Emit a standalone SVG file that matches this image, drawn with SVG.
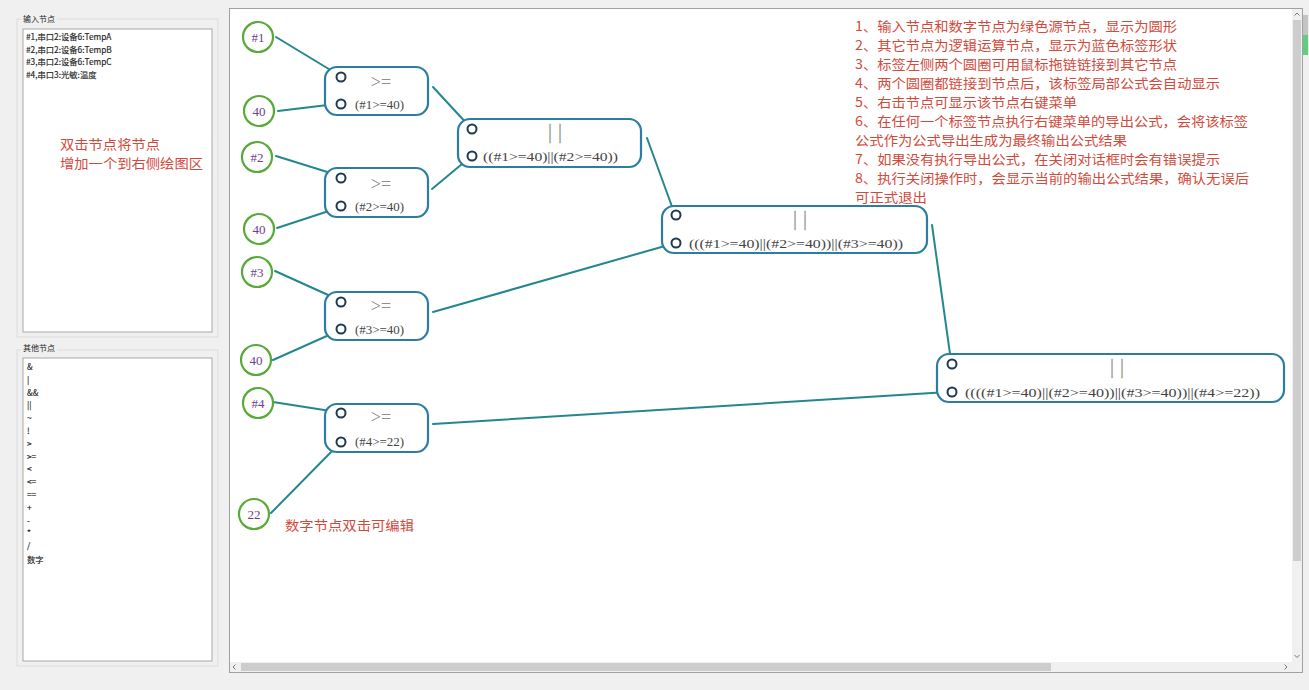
<svg xmlns="http://www.w3.org/2000/svg" width="1309" height="690" viewBox="0 0 1309 690">
<style>
.list{font-family:"Noto Sans CJK SC","Noto Sans",sans-serif;font-size:8.3px;fill:#222;stroke:#222;stroke-width:0.15}
.title{font-family:"Noto Sans CJK SC","Noto Sans",sans-serif;font-size:8px;fill:#222}
.red{font-family:"Noto Sans CJK SC",sans-serif;font-size:13px;fill:#d24a3c}
.src circle{fill:#fff;stroke:#58aa38;stroke-width:2.2}
.src text{font-family:"Liberation Serif",serif;font-size:13px;fill:#6e3d8e;text-anchor:middle}
.lab rect{fill:#fff;stroke:#2b7ea1;stroke-width:2.2}
.port{fill:none;stroke:#1e3a52;stroke-width:2}
.op{font-family:"Liberation Serif",serif;font-size:18px;fill:#8c8c8c;text-anchor:middle}
.bars{font-family:"Liberation Serif",serif;font-size:20px;fill:#9a9a9a;stroke:#9a9a9a;stroke-width:0.3;text-anchor:middle;letter-spacing:6px}
.fx{font-family:"Liberation Serif",serif;font-size:12.5px;fill:#444}
#connectors line{stroke:#24878f;stroke-width:2;stroke-linecap:round}
.sb{fill:none;stroke:#777;stroke-width:1}
</style>
<rect width="1309" height="690" fill="#f0f0f0"/>

<!-- left panel: input nodes -->
<g id="panel-input">
<rect x="17" y="19" width="201" height="318" fill="none" stroke="#dcdcdc"/>
<rect x="21" y="13" width="36" height="12" fill="#f0f0f0"/>
<text class="title" x="23" y="22">输入节点</text>
<rect x="23" y="29" width="189" height="303" fill="#fff" stroke="#a8a8a8"/>
<text class="list" x="26" y="40">#1,串口2:设备6:TempA</text>
<text class="list" x="26" y="53">#2,串口2:设备6:TempB</text>
<text class="list" x="26" y="65">#3,串口2:设备6:TempC</text>
<text class="list" x="26" y="78">#4,串口3:光敏:温度</text>
<text class="red" x="60" y="149" textLength="100" lengthAdjust="spacingAndGlyphs">双击节点将节点</text>
<text class="red" x="60" y="168" textLength="143" lengthAdjust="spacingAndGlyphs">增加一个到右侧绘图区</text>
</g>

<!-- left panel: other nodes -->
<g id="panel-other">
<rect x="17" y="350" width="201" height="316" fill="none" stroke="#dcdcdc"/>
<rect x="21" y="343" width="36" height="12" fill="#f0f0f0"/>
<text class="title" x="23" y="351">其他节点</text>
<rect x="23" y="358" width="189" height="303" fill="#fff" stroke="#a8a8a8"/>
<text class="list" x="27" y="370">&amp;</text>
<text class="list" x="27" y="383">|</text>
<text class="list" x="27" y="396">&amp;&amp;</text>
<text class="list" x="27" y="408">||</text>
<text class="list" x="27" y="421">~</text>
<text class="list" x="27" y="434">!</text>
<text class="list" x="27" y="447">&gt;</text>
<text class="list" x="27" y="460">&gt;=</text>
<text class="list" x="27" y="472">&lt;</text>
<text class="list" x="27" y="485">&lt;=</text>
<text class="list" x="27" y="498">==</text>
<text class="list" x="27" y="511">+</text>
<text class="list" x="27" y="524">-</text>
<text class="list" x="27" y="536">*</text>
<text class="list" x="27" y="549">/</text>
<text class="list" x="27" y="563">数字</text>
</g>

<!-- canvas -->
<g id="canvas">
<rect x="229.5" y="8.5" width="1073" height="664" fill="#fff" stroke="#a0a0a0"/>
<rect x="1292" y="9" width="10" height="653" fill="#f0f0f0"/>
<rect x="1293" y="20" width="8" height="541" fill="#cdcdcd"/>
<polyline class="sb" points="1294.5,15.5 1297,13 1299.5,15.5"/>
<polyline class="sb" points="1294.5,655 1297,657.5 1299.5,655"/>
<rect x="230" y="662" width="1072" height="10" fill="#f0f0f0"/>
<rect x="241" y="663" width="810" height="8" fill="#cdcdcd"/>
<polyline class="sb" points="235.5,664.5 233,667 235.5,669.5"/>
<polyline class="sb" points="1284.5,664.5 1287,667 1284.5,669.5"/>
</g>
<rect x="1303" y="15" width="5" height="20" fill="#c4c4c4"/>
<rect x="1303" y="35" width="5" height="20" fill="#5fcf7f"/>

<!-- connectors -->
<g id="connectors">
<line x1="276" y1="37" x2="337" y2="74"/>
<line x1="278" y1="111" x2="336" y2="104"/>
<line x1="276" y1="156" x2="337" y2="175"/>
<line x1="277" y1="228" x2="338" y2="208"/>
<line x1="275" y1="271" x2="337" y2="299"/>
<line x1="273" y1="360" x2="338" y2="331"/>
<line x1="273" y1="402" x2="337" y2="412"/>
<line x1="271" y1="513" x2="338" y2="445"/>
<line x1="433" y1="87" x2="469" y2="126"/>
<line x1="432" y1="189" x2="468" y2="159"/>
<line x1="647" y1="138" x2="674" y2="212"/>
<line x1="433" y1="312" x2="672" y2="244"/>
<line x1="932" y1="225" x2="951" y2="361"/>
<line x1="433" y1="424" x2="948" y2="392"/>
</g>

<!-- source nodes -->
<g id="src-1" class="src"><circle cx="258" cy="37" r="15"/><text x="258" y="42">#1</text></g>
<g id="src-40a" class="src"><circle cx="259" cy="111" r="15"/><text x="259" y="116">40</text></g>
<g id="src-2" class="src"><circle cx="257" cy="157" r="15"/><text x="257" y="162">#2</text></g>
<g id="src-40b" class="src"><circle cx="259" cy="229" r="15"/><text x="259" y="234">40</text></g>
<g id="src-3" class="src"><circle cx="257" cy="272" r="15"/><text x="257" y="277">#3</text></g>
<g id="src-40c" class="src"><circle cx="256" cy="360" r="15"/><text x="256" y="365">40</text></g>
<g id="src-4" class="src"><circle cx="258" cy="403" r="15"/><text x="258" y="408">#4</text></g>
<g id="src-22" class="src"><circle cx="254" cy="514" r="15"/><text x="254" y="519">22</text></g>

<!-- label (operator) nodes -->
<g id="ge-1" class="lab">
<rect x="325" y="67" width="103" height="48" rx="12"/>
<circle class="port" cx="341" cy="77" r="4.5"/><circle class="port" cx="341" cy="104" r="4.5"/>
<text class="op" x="381" y="88">&gt;=</text>
<text class="fx" x="355" y="109" textLength="49" lengthAdjust="spacingAndGlyphs">(#1&gt;=40)</text>
</g>
<g id="ge-2" class="lab">
<rect x="325" y="168" width="103" height="49" rx="12"/>
<circle class="port" cx="341" cy="178" r="4.5"/><circle class="port" cx="341" cy="206" r="4.5"/>
<text class="op" x="381" y="190">&gt;=</text>
<text class="fx" x="355" y="211" textLength="49" lengthAdjust="spacingAndGlyphs">(#2&gt;=40)</text>
</g>
<g id="ge-3" class="lab">
<rect x="325" y="292" width="103" height="48" rx="12"/>
<circle class="port" cx="341" cy="302" r="4.5"/><circle class="port" cx="341" cy="329" r="4.5"/>
<text class="op" x="381" y="312">&gt;=</text>
<text class="fx" x="355" y="334" textLength="49" lengthAdjust="spacingAndGlyphs">(#3&gt;=40)</text>
</g>
<g id="ge-4" class="lab">
<rect x="325" y="404" width="103" height="48" rx="12"/>
<circle class="port" cx="341" cy="413" r="4.5"/><circle class="port" cx="341" cy="442" r="4.5"/>
<text class="op" x="381" y="423">&gt;=</text>
<text class="fx" x="355" y="446" textLength="49" lengthAdjust="spacingAndGlyphs">(#4&gt;=22)</text>
</g>
<g id="or-1" class="lab">
<rect x="458" y="119" width="183" height="48" rx="12"/>
<circle class="port" cx="472" cy="129" r="4.5"/><circle class="port" cx="472" cy="156" r="4.5"/>
<text class="bars" x="558" y="138">||</text>
<text class="fx" x="483" y="161" textLength="135" lengthAdjust="spacingAndGlyphs">((#1&gt;=40)||(#2&gt;=40))</text>
</g>
<g id="or-2" class="lab">
<rect x="662" y="206" width="265" height="47" rx="12"/>
<circle class="port" cx="676" cy="215" r="4.5"/><circle class="port" cx="676" cy="243" r="4.5"/>
<text class="bars" x="803" y="225">||</text>
<text class="fx" x="689" y="248" textLength="214" lengthAdjust="spacingAndGlyphs">(((#1&gt;=40)||(#2&gt;=40))||(#3&gt;=40))</text>
</g>
<g id="or-3" class="lab">
<rect x="937" y="354" width="347" height="48" rx="12"/>
<circle class="port" cx="952" cy="364" r="4.5"/><circle class="port" cx="952" cy="392" r="4.5"/>
<text class="bars" x="1120" y="373">||</text>
<text class="fx" x="965" y="397" textLength="295" lengthAdjust="spacingAndGlyphs">((((#1&gt;=40)||(#2&gt;=40))||(#3&gt;=40))||(#4&gt;=22))</text>
</g>

<!-- annotations -->
<g id="notes">
<text class="red" x="285" y="530" textLength="129" lengthAdjust="spacingAndGlyphs">数字节点双击可编辑</text>
<text class="red" x="855" y="31" textLength="322" lengthAdjust="spacingAndGlyphs">1、输入节点和数字节点为绿色源节点，显示为圆形</text>
<text class="red" x="855" y="50" textLength="322" lengthAdjust="spacingAndGlyphs">2、其它节点为逻辑运算节点，显示为蓝色标签形状</text>
<text class="red" x="855" y="69" textLength="322" lengthAdjust="spacingAndGlyphs">3、标签左侧两个圆圈可用鼠标拖链链接到其它节点</text>
<text class="red" x="855" y="88" textLength="365" lengthAdjust="spacingAndGlyphs">4、两个圆圈都链接到节点后，该标签局部公式会自动显示</text>
<text class="red" x="855" y="107" textLength="222" lengthAdjust="spacingAndGlyphs">5、右击节点可显示该节点右键菜单</text>
<text class="red" x="855" y="126" textLength="393" lengthAdjust="spacingAndGlyphs">6、在任何一个标签节点执行右键菜单的导出公式，会将该标签</text>
<text class="red" x="855" y="145" textLength="272" lengthAdjust="spacingAndGlyphs">公式作为公式导出生成为最终输出公式结果</text>
<text class="red" x="855" y="164" textLength="365" lengthAdjust="spacingAndGlyphs">7、如果没有执行导出公式，在关闭对话框时会有错误提示</text>
<text class="red" x="855" y="183" textLength="394" lengthAdjust="spacingAndGlyphs">8、执行关闭操作时，会显示当前的输出公式结果，确认无误后</text>
<text class="red" x="855" y="202" textLength="72" lengthAdjust="spacingAndGlyphs">可正式退出</text>
</g>
</svg>
